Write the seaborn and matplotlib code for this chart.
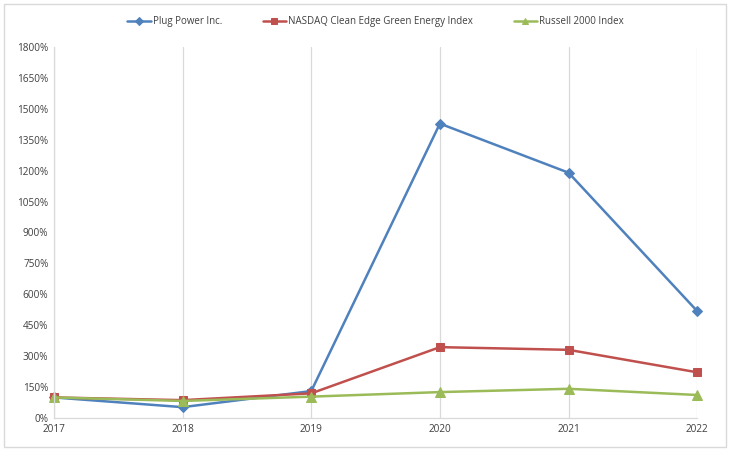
import matplotlib
matplotlib.use("Agg")
import matplotlib.pyplot as plt
import seaborn as sns
import pandas as pd
from matplotlib.patches import Rectangle
from matplotlib.ticker import FuncFormatter

years = [2017, 2018, 2019, 2020, 2021, 2022]
plug = [100, 53, 131, 1428, 1190, 519]
nasdaq = [100, 87, 120, 344, 331, 222]
russell = [100, 83, 104, 126, 142, 112]

series_names = ["Plug Power Inc.", "NASDAQ Clean Edge Green Energy Index", "Russell 2000 Index"]
colors = ["#4F81BD", "#C0504D", "#9BBB59"]
markers = ["D", "s", "^"]
msizes = [5, 6, 7]

df = pd.DataFrame({"year": years * 3,
                   "value": plug + nasdaq + russell,
                   "series": sum([[n] * len(years) for n in series_names], [])})

sns.set_theme(style="white")
plt.rcParams['font.family'] = ['Open Sans', 'DejaVu Sans']

fig = plt.figure(figsize=(7.3, 4.51), dpi=100)
ax = fig.add_axes([0.074, 0.073, 0.881, 0.823])

for name, c, m, ms in zip(series_names, colors, markers, msizes):
    sub = df[df.series == name]
    sns.lineplot(data=sub, x="year", y="value", ax=ax, color=c, marker=m,
                 markersize=ms, markeredgecolor=c, linewidth=1.8, label=name,
                 clip_on=False)

ax.set_xlim(2017, 2022)
ax.set_ylim(0, 1800)
ax.set_yticks(range(0, 1801, 150))
ax.yaxis.set_major_formatter(FuncFormatter(lambda v, p: f"{int(v)}%"))
ax.set_xticks(years)
ax.set_xlabel("")
ax.set_ylabel("")
ax.tick_params(axis='both', labelsize=7.2, colors="#404040", length=0, pad=4)
ax.xaxis.grid(True, color="#D9D9D9", linewidth=0.9)
ax.yaxis.grid(False)
for s in ["top", "right"]:
    ax.spines[s].set_visible(False)
for s in ["left", "bottom"]:
    ax.spines[s].set_color("#D9D9D9")
    ax.spines[s].set_linewidth(0.9)

leg = ax.legend(loc="center", bbox_to_anchor=(0.5, 1.068), ncol=3, frameon=False,
                fontsize=7.0, handlelength=2.4, columnspacing=4.2, handletextpad=0.2,
                labelcolor="#404040")
for h in leg.legend_handles:
    h.set_markersize(4)

fig.patches.append(Rectangle((0.005, 0.008), 0.99, 0.984, transform=fig.transFigure,
                             fill=False, edgecolor="#D9D9D9", linewidth=1))

fig.savefig("out.png", dpi=100)
